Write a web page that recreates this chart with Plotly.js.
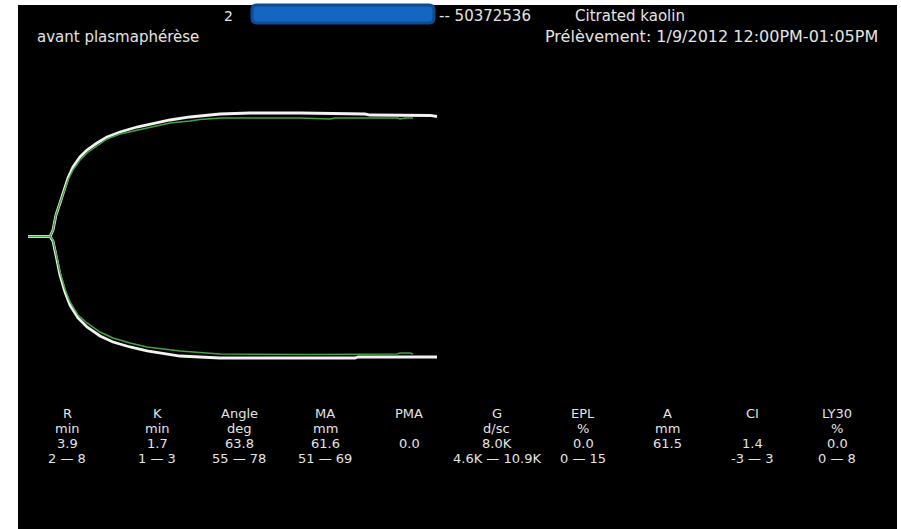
<!DOCTYPE html>
<html>
<head>
<meta charset="utf-8">
<script src="https://cdn.plot.ly/plotly-3.0.1.min.js"></script>
<style>
  html, body { margin: 0; padding: 0; background: #ffffff; }
  #teg { width: 901px; height: 529px; }
</style>
</head>
<body>
<div id="teg"></div>
<script>
// Thromboelastogram trace: time in minutes, half-amplitude in mm (upper +, lower -)
const whiteUpperT = [0, 3.90, 4.43, 4.96, 5.67, 6.21, 7.09, 7.98, 9.22, 10.46, 12.23, 14.01, 16.31, 19.33, 22.52, 25.18, 28.72, 34.04, 39.36, 48.23, 59.75, 60.64, 71.28, 72.52];
const whiteUpperA = [0, 0, 1.64, 5.43, 8.46, 10.98, 14.77, 17.55, 20.08, 21.84, 23.61, 25.13, 26.39, 27.65, 28.66, 29.42, 30.18, 30.93, 31.19, 31.19, 30.93, 30.68, 30.56, 30.30];

const whiteLowerT = [3.90, 4.43, 5.14, 5.67, 6.56, 7.45, 8.87, 10.46, 12.77, 15.07, 18.09, 21.10, 26.95, 34.04, 57.98, 58.51, 72.52];
const whiteLowerA = [0, -1.14, -5.93, -9.72, -14.02, -17.30, -20.58, -22.85, -25.13, -26.64, -27.90, -28.91, -30.18, -30.68, -30.68, -30.43, -30.43];

const greenUpperT = [0, 3.90, 4.43, 4.96, 5.67, 6.21, 7.09, 7.98, 9.22, 10.46, 12.23, 14.01, 16.31, 19.33, 22.52, 25.18, 28.72, 30.50, 34.40, 48.23, 53.55, 54.43, 65.60, 65.96, 66.84, 68.26];
const greenUpperA = [0, 0, 1.64, 5.43, 8.46, 10.73, 14.27, 16.79, 19.32, 21.09, 22.85, 24.62, 25.88, 26.89, 27.90, 28.66, 29.17, 29.55, 29.92, 29.92, 29.67, 29.92, 29.92, 29.67, 29.92, 29.92];

const greenLowerT = [3.90, 4.43, 5.14, 5.67, 6.56, 7.45, 8.87, 10.46, 12.77, 15.07, 18.09, 21.10, 26.95, 34.04, 50.00, 65.43, 65.96, 67.73, 68.26];
const greenLowerA = [0, -0.88, -5.43, -8.96, -13.26, -16.54, -19.82, -21.84, -24.12, -25.63, -26.89, -27.90, -28.91, -29.67, -29.80, -29.67, -29.42, -29.42, -29.67];

// Result table
const paramNames = ["R", "K", "Angle", "MA", "PMA", "G", "EPL", "A", "CI", "LY30"];
const paramUnits = ["min", "min", "deg", "mm", "", "d/sc", "%", "mm", "", "%"];
const paramValues = ["3.9", "1.7", "63.8", "61.6", "0.0", "8.0K", "0.0", "61.5", "1.4", "0.0"];
const paramRanges = ["2 \u2014 8", "1 \u2014 3", "55 \u2014 78", "51 \u2014 69", "", "4.6K \u2014 10.9K", "0 \u2014 15", "", "-3 \u2014 3", "0 \u2014 8"];

// Header texts
const headerNumber = "2";
const headerId = "-- 50372536";
const headerReagent = "Citrated kaolin";
const headerSample = "avant plasmaph\u00e9r\u00e8se";
const headerTime = "Pr\u00e9l\u00e8vement: 1/9/2012 12:00PM-01:05PM";

// Page geometry
const W = 901, H = 529;
const M = { l: 18, r: 4, t: 5, b: 0 };
const PW = W - M.l - M.r, PH = H - M.t - M.b;
const px = x => (x - M.l) / PW;
const py = y => (H - M.b - y) / PH;

const textColor = "#e4e4e4";
const font = "DejaVu Sans, sans-serif";

const traces = [
  { x: whiteUpperT, y: whiteUpperA, mode: "lines", line: { color: "#f2f2f2", width: 2.8 }, hoverinfo: "skip" },
  { x: whiteLowerT, y: whiteLowerA, mode: "lines", line: { color: "#f2f2f2", width: 2.8 }, hoverinfo: "skip" },
  { x: greenUpperT, y: greenUpperA, mode: "lines", line: { color: "#46a046", width: 1.5 }, hoverinfo: "skip" },
  { x: greenLowerT, y: greenLowerA, mode: "lines", line: { color: "#46a046", width: 1.5 }, hoverinfo: "skip" }
];

const annotations = [];
function label(text, x, y, anchor, size) {
  annotations.push({
    text: text, xref: "paper", yref: "paper", x: px(x), y: py(y),
    xanchor: anchor, yanchor: "middle", showarrow: false,
    font: { family: font, size: size, color: textColor }
  });
}

label(headerNumber, 222, 16, "left", 14);
label(headerId, 437, 16, "left", 15);
label(headerReagent, 573, 16, "left", 15);
label(headerSample, 35, 37, "left", 15);
label(headerTime, 543, 36, "left", 16);

const colX = [67, 157, 239, 325, 409, 497, 583, 667, 752, 837];
const rowY = [413, 428, 443, 459];
paramNames.forEach((name, i) => {
  const cells = [name, paramUnits[i], paramValues[i], paramRanges[i]];
  cells.forEach((c, r) => { if (c) label(c, colX[i], rowY[r], "center", 13); });
});

// Redaction box over the patient name
function roundedRect(x0, y0, x1, y1, rad) {
  const X = v => px(v).toFixed(5), Y = v => py(v).toFixed(5);
  return `M${X(x0 + rad)},${Y(y0)} L${X(x1 - rad)},${Y(y0)} Q${X(x1)},${Y(y0)} ${X(x1)},${Y(y0 + rad)} ` +
         `L${X(x1)},${Y(y1 - rad)} Q${X(x1)},${Y(y1)} ${X(x1 - rad)},${Y(y1)} ` +
         `L${X(x0 + rad)},${Y(y1)} Q${X(x0)},${Y(y1)} ${X(x0)},${Y(y1 - rad)} ` +
         `L${X(x0)},${Y(y0 + rad)} Q${X(x0)},${Y(y0)} ${X(x0 + rad)},${Y(y0)} Z`;
}

const shapes = [
  { type: "path", xref: "paper", yref: "paper", path: roundedRect(252, 5, 434, 23, 5),
    fillcolor: "#1466c2", line: { color: "#0b4d8e", width: 3 } }
];

// Axis ranges: 5.64 px per minute, 3.96 px per mm, baseline at y = 236.5 px
const pxPerMin = 5.64, pxPerMm = 3.96, x0px = 28, basePx = 236.5;
const layout = {
  width: W, height: H,
  margin: M,
  paper_bgcolor: "#ffffff",
  plot_bgcolor: "#000000",
  showlegend: false,
  xaxis: { range: [(M.l - x0px) / pxPerMin, (W - M.r - x0px) / pxPerMin], visible: false, fixedrange: true },
  yaxis: { range: [(basePx - (H - M.b)) / pxPerMm, (basePx - M.t) / pxPerMm], visible: false, fixedrange: true },
  annotations: annotations,
  shapes: shapes
};

Plotly.newPlot("teg", traces, layout, { staticPlot: true, displayModeBar: false });
</script>
</body>
</html>
